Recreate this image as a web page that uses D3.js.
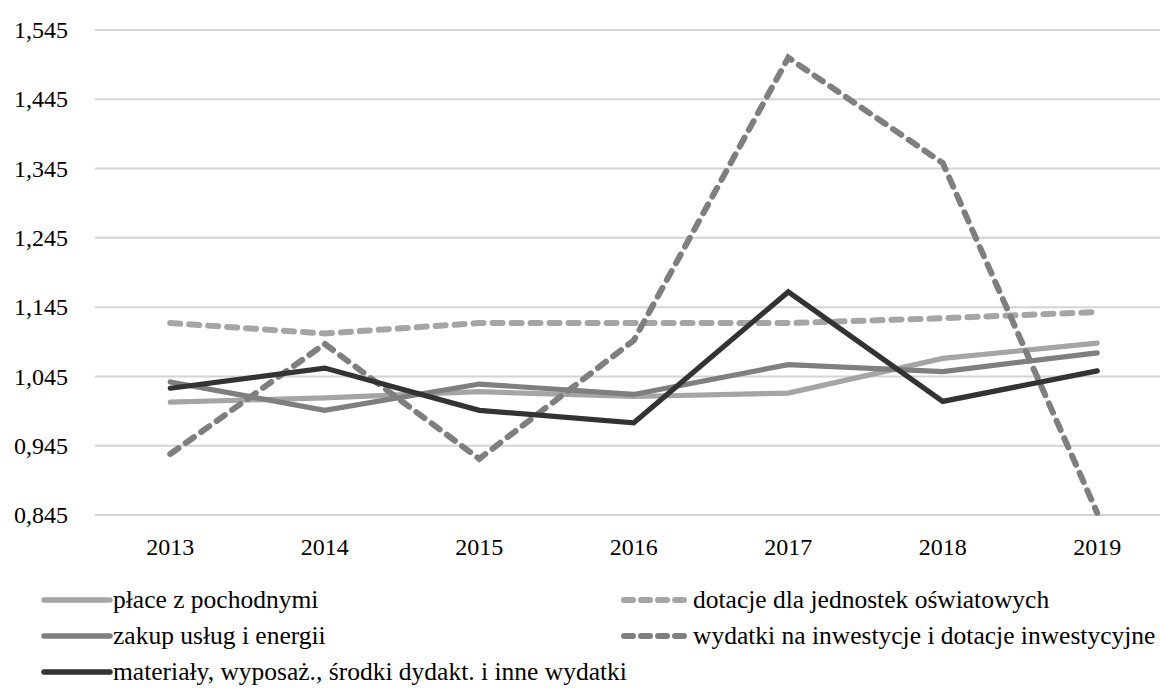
<!DOCTYPE html>
<html>
<head>
<meta charset="utf-8">
<script src="https://cdn.jsdelivr.net/npm/d3@7/dist/d3.min.js"></script>
<style>
  html, body { margin: 0; padding: 0; background: #fff; overflow: hidden; }
  svg { display: block; }
  svg text { font-family: "Liberation Serif", "Tinos", "Times New Roman", "DejaVu Serif", serif !important; }
</style>
</head>
<body>
<svg id="chart" width="1160" height="691"></svg>
<script>
const years = ["2013", "2014", "2015", "2016", "2017", "2018", "2019"];
const yTicks = [0.845, 0.945, 1.045, 1.145, 1.245, 1.345, 1.445, 1.545];

const placeValues      = [1.008, 1.014, 1.023, 1.016, 1.021, 1.071, 1.093];
const dotacjeValues    = [1.122, 1.107, 1.122, 1.122, 1.122, 1.129, 1.138];
const zakupValues      = [1.037, 0.996, 1.034, 1.019, 1.062, 1.052, 1.079];
const wydatkiValues    = [0.933, 1.092, 0.926, 1.097, 1.505, 1.353, 0.848];
const materialyValues  = [1.028, 1.057, 0.996, 0.978, 1.167, 1.009, 1.053];

const seriesNames = [
  "płace z pochodnymi",
  "dotacje dla jednostek oświatowych",
  "zakup usług i energii",
  "wydatki na inwestycje i dotacje inwestycyjne",
  "materiały, wyposaż., środki dydakt. i inne wydatki"
];

const series = [
  { name: seriesNames[0], values: placeValues,     color: "#a5a5a5", dash: null },
  { name: seriesNames[1], values: dotacjeValues,   color: "#a5a5a5", dash: "10,9" },
  { name: seriesNames[2], values: zakupValues,     color: "#7f7f7f", dash: null },
  { name: seriesNames[3], values: wydatkiValues,   color: "#7f7f7f", dash: "10,9" },
  { name: seriesNames[4], values: materialyValues, color: "#333333", dash: null }
];

const svg = d3.select("#chart");
const plotLeft = 93, step = 154.5;
const x = d3.scaleBand().domain(years).range([plotLeft, plotLeft + step * years.length]).padding(0);
const y = d3.scaleLinear().domain([0.845, 1.545]).range([515, 30]);
const cx = d => x(d) + x.bandwidth() / 2;

const locale = d3.formatLocale({ decimal: ",", thousands: " ", grouping: [3], currency: ["", ""] });
const fmt = locale.format(".3f");

// gridlines
svg.append("g")
  .selectAll("line").data(yTicks).join("line")
  .attr("x1", plotLeft + 2).attr("x2", 1160)
  .attr("y1", d => y(d)).attr("y2", d => y(d))
  .attr("stroke", "#d4d4d4").attr("stroke-width", 2);

// y axis labels
const yAxis = d3.axisLeft(y).tickValues(yTicks).tickFormat(fmt).tickSize(0).tickPadding(0);
const gy = svg.append("g").attr("transform", "translate(68,0)").call(yAxis);
gy.select(".domain").remove();
gy.attr("font-family", null);
gy.selectAll("text").attr("font-size", 24).attr("fill", "#000");

// x axis labels
const xAxis = d3.axisBottom(x).tickSize(0).tickPadding(0);
const gx = svg.append("g").attr("transform", "translate(0,538)").call(xAxis);
gx.select(".domain").remove();
gx.attr("font-family", null);
gx.selectAll("text").attr("font-size", 24).attr("fill", "#000");

// lines
const line = d3.line().x((d, i) => cx(years[i])).y(d => y(d));
svg.append("g").selectAll("path").data(series).join("path")
  .attr("d", d => line(d.values))
  .attr("fill", "none")
  .attr("stroke", d => d.color)
  .attr("stroke-width", d => d.dash ? 6 : 5.2)
  .attr("stroke-linecap", "round")
  .attr("stroke-linejoin", "miter")
  .attr("stroke-dasharray", d => d.dash);

// legend
const legendPos = [
  { x: 42, y: 600 }, { x: 622, y: 600 },
  { x: 42, y: 636 }, { x: 622, y: 636 },
  { x: 42, y: 672 }
];
const lg = svg.append("g").selectAll("g").data(series).join("g")
  .attr("transform", (d, i) => `translate(${legendPos[i].x},${legendPos[i].y})`);
lg.append("line")
  .attr("x1", 2).attr("x2", 68).attr("y1", 0).attr("y2", 0)
  .attr("stroke", d => d.color)
  .attr("stroke-width", d => d.dash ? 6 : 5.5)
  .attr("stroke-linecap", "round")
  .attr("stroke-dasharray", d => d.dash ? "9,8" : null);
lg.append("text")
  .attr("x", 71).attr("y", 0).attr("dy", "0.32em")
  .attr("font-size", 25.5).attr("fill", "#000")
  .text(d => d.name);
</script>
</body>
</html>
